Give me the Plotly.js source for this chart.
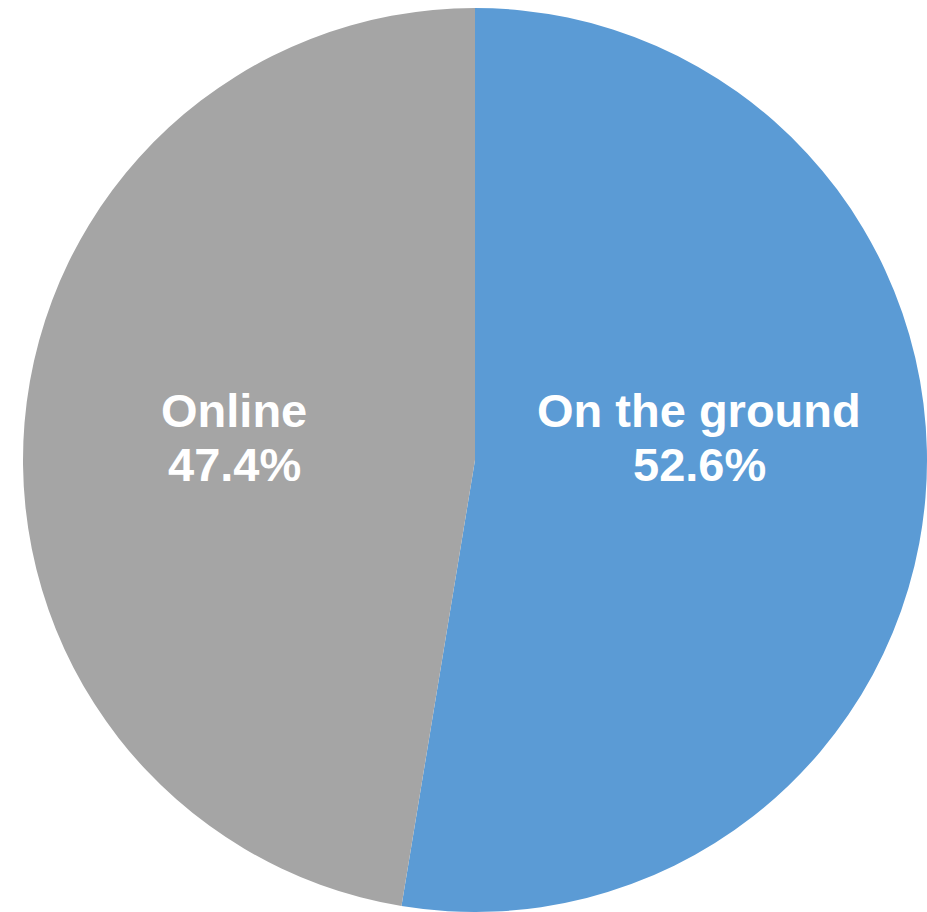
<!DOCTYPE html>
<html>
<head>
<meta charset="utf-8">
<script src="https://cdn.plot.ly/plotly-3.0.1.min.js"></script>
<style>html,body{margin:0;padding:0;background:#fff;}#chart{width:927px;height:912px;}</style>
</head>
<body>
<div id="chart"></div>
<script>
const labels = ["On the ground", "Online"];
const values = [52.6, 47.4];
const colors = ["#5B9BD5", "#A5A5A5"];

const W = 927, H = 912;
// label anchor positions in pixels (centre x, line-1 centre y, line-2 centre y)
const labelPos = [[699, 410, 465], [234, 410, 465]];

const total = values.reduce((a, b) => a + b, 0);
const font = {family: "Liberation Sans, Arial, sans-serif", size: 47, color: "#ffffff"};
const annotations = [];
labels.forEach((lab, i) => {
  const p = labelPos[i];
  annotations.push({text: "<b>" + lab + "</b>", x: p[0] / W, y: 1 - p[1] / H, xref: "paper", yref: "paper",
    xanchor: "center", yanchor: "middle", showarrow: false, font: font});
  annotations.push({text: "<b>" + (values[i] / total * 100).toFixed(1) + "%</b>", x: p[0] / W, y: 1 - p[2] / H,
    xref: "paper", yref: "paper", xanchor: "center", yanchor: "middle", showarrow: false, font: font});
});

Plotly.newPlot("chart", [{
  type: "pie",
  labels: labels,
  values: values,
  sort: false,
  direction: "clockwise",
  rotation: 0,
  marker: {colors: colors, line: {width: 0}},
  textinfo: "none",
  hoverinfo: "none",
  showlegend: false,
  domain: {x: [23 / W, 1], y: [0, 904 / H]}
}], {
  width: W, height: H,
  margin: {l: 0, r: 0, t: 0, b: 0},
  paper_bgcolor: "#ffffff",
  showlegend: false,
  annotations: annotations
}, {displayModeBar: false, staticPlot: true});
</script>
</body>
</html>
